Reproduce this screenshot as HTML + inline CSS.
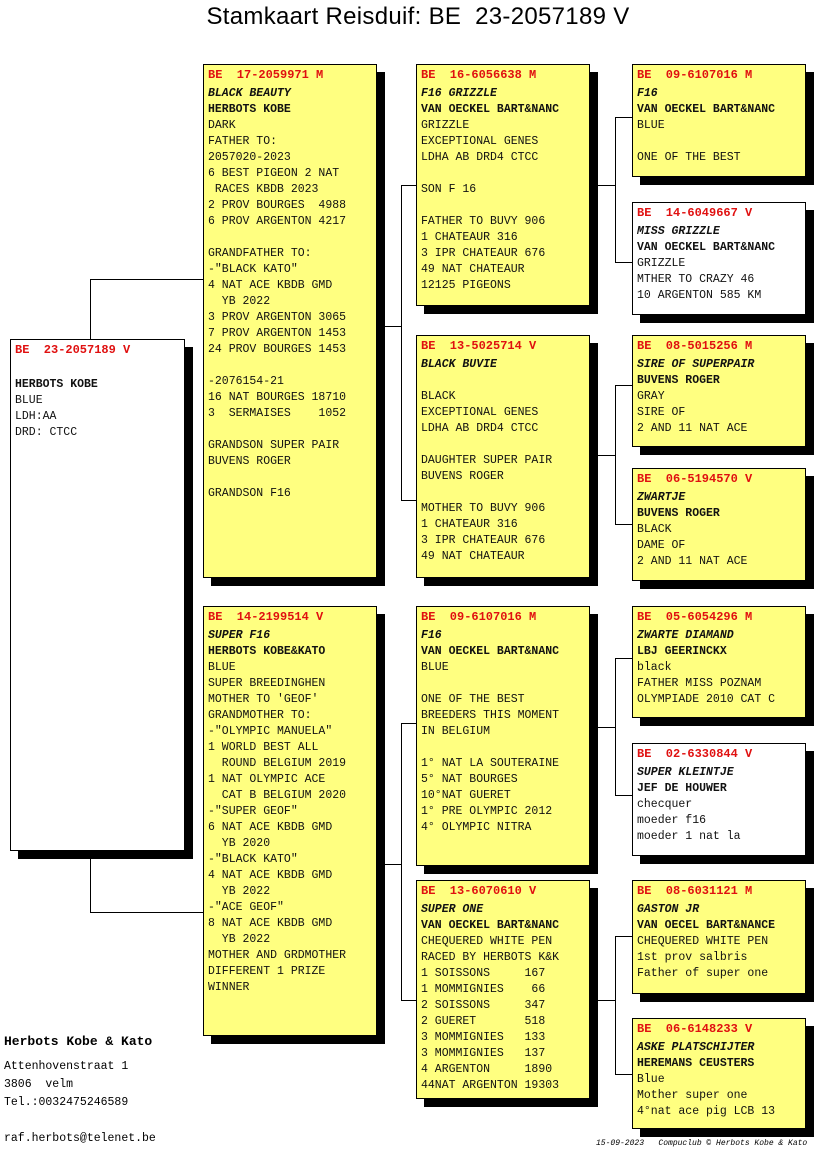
<!DOCTYPE html>
<html><head><meta charset="utf-8">
<style>
body{margin:0;width:816px;height:1172px;background:#fff;position:relative;overflow:hidden;font-family:"Liberation Mono",monospace;}
.t{position:absolute;left:0;width:836px;top:3px;text-align:center;font:24px "Liberation Sans",sans-serif;letter-spacing:0.3px;}
.b{position:absolute;background:#ffff80;border:1px solid #000;box-shadow:8px 8px 0 #000;box-sizing:border-box;padding:1px 0 0 4px;font-size:11.5px;line-height:16px;color:#111;white-space:pre;}
.w{background:#fff;}
.h{color:#e01010;font-weight:bold;font-size:12px;line-height:18px;margin-bottom:2px;}
.n{font-style:italic;font-weight:bold;}
.o{font-weight:bold;}
.l{position:absolute;background:#000;}
.f{position:absolute;left:4px;font-size:11.5px;line-height:19px;white-space:pre;}
</style></head><body>
<div class="t">Stamkaart Reisduif: BE&nbsp; 23-2057189 V</div>

<div class="l" style="left:90px;top:279px;width:1px;height:60px"></div>
<div class="l" style="left:90px;top:279px;width:113px;height:1px"></div>
<div class="l" style="left:90px;top:850px;width:1px;height:62px"></div>
<div class="l" style="left:90px;top:912px;width:113px;height:1px"></div>

<div class="l" style="left:376px;top:326px;width:26px;height:1px"></div>
<div class="l" style="left:401px;top:185px;width:1px;height:316px"></div>
<div class="l" style="left:401px;top:185px;width:15px;height:1px"></div>
<div class="l" style="left:401px;top:500px;width:15px;height:1px"></div>

<div class="l" style="left:376px;top:864px;width:26px;height:1px"></div>
<div class="l" style="left:401px;top:723px;width:1px;height:277px"></div>
<div class="l" style="left:401px;top:723px;width:15px;height:1px"></div>
<div class="l" style="left:401px;top:1000px;width:15px;height:1px"></div>

<div class="l" style="left:589px;top:185px;width:26px;height:1px"></div>
<div class="l" style="left:615px;top:117px;width:1px;height:146px"></div>
<div class="l" style="left:615px;top:117px;width:17px;height:1px"></div>
<div class="l" style="left:615px;top:262px;width:17px;height:1px"></div>

<div class="l" style="left:589px;top:455px;width:26px;height:1px"></div>
<div class="l" style="left:615px;top:385px;width:1px;height:140px"></div>
<div class="l" style="left:615px;top:385px;width:17px;height:1px"></div>
<div class="l" style="left:615px;top:524px;width:17px;height:1px"></div>

<div class="l" style="left:589px;top:727px;width:26px;height:1px"></div>
<div class="l" style="left:615px;top:658px;width:1px;height:138px"></div>
<div class="l" style="left:615px;top:658px;width:17px;height:1px"></div>
<div class="l" style="left:615px;top:795px;width:17px;height:1px"></div>

<div class="l" style="left:589px;top:1000px;width:26px;height:1px"></div>
<div class="l" style="left:615px;top:936px;width:1px;height:139px"></div>
<div class="l" style="left:615px;top:936px;width:17px;height:1px"></div>
<div class="l" style="left:615px;top:1074px;width:17px;height:1px"></div>

<div class="b w" style="left:10px;top:339px;width:175px;height:512px"><div class="h">BE  23-2057189 V</div>
<span class="o">HERBOTS KOBE</span>
BLUE
LDH:AA
DRD: CTCC</div>

<div class="b" style="left:203px;top:64px;width:174px;height:514px"><div class="h">BE  17-2059971 M</div><span class="n">BLACK BEAUTY</span>
<span class="o">HERBOTS KOBE</span>
DARK
FATHER TO:
2057020-2023
6 BEST PIGEON 2 NAT
 RACES KBDB 2023
2 PROV BOURGES  4988
6 PROV ARGENTON 4217

GRANDFATHER TO:
-"BLACK KATO"
4 NAT ACE KBDB GMD
  YB 2022
3 PROV ARGENTON 3065
7 PROV ARGENTON 1453
24 PROV BOURGES 1453

-2076154-21
16 NAT BOURGES 18710
3  SERMAISES    1052

GRANDSON SUPER PAIR
BUVENS ROGER

GRANDSON F16</div>

<div class="b" style="left:203px;top:606px;width:174px;height:430px"><div class="h">BE  14-2199514 V</div><span class="n">SUPER F16</span>
<span class="o">HERBOTS KOBE&amp;KATO</span>
BLUE
SUPER BREEDINGHEN
MOTHER TO 'GEOF'
GRANDMOTHER TO:
-"OLYMPIC MANUELA"
1 WORLD BEST ALL
  ROUND BELGIUM 2019
1 NAT OLYMPIC ACE
  CAT B BELGIUM 2020
-"SUPER GEOF"
6 NAT ACE KBDB GMD
  YB 2020
-"BLACK KATO"
4 NAT ACE KBDB GMD
  YB 2022
-"ACE GEOF"
8 NAT ACE KBDB GMD
  YB 2022
MOTHER AND GRDMOTHER
DIFFERENT 1 PRIZE
WINNER</div>

<div class="b" style="left:416px;top:64px;width:174px;height:242px"><div class="h">BE  16-6056638 M</div><span class="n">F16 GRIZZLE</span>
<span class="o">VAN OECKEL BART&amp;NANC</span>
GRIZZLE
EXCEPTIONAL GENES
LDHA AB DRD4 CTCC

SON F 16

FATHER TO BUVY 906
1 CHATEAUR 316
3 IPR CHATEAUR 676
49 NAT CHATEAUR
12125 PIGEONS</div>

<div class="b" style="left:416px;top:335px;width:174px;height:243px"><div class="h">BE  13-5025714 V</div><span class="n">BLACK BUVIE</span>

BLACK
EXCEPTIONAL GENES
LDHA AB DRD4 CTCC

DAUGHTER SUPER PAIR
BUVENS ROGER

MOTHER TO BUVY 906
1 CHATEAUR 316
3 IPR CHATEAUR 676
49 NAT CHATEAUR</div>

<div class="b" style="left:416px;top:606px;width:174px;height:260px"><div class="h">BE  09-6107016 M</div><span class="n">F16</span>
<span class="o">VAN OECKEL BART&amp;NANC</span>
BLUE

ONE OF THE BEST
BREEDERS THIS MOMENT
IN BELGIUM

1° NAT LA SOUTERAINE
5° NAT BOURGES
10°NAT GUERET
1° PRE OLYMPIC 2012
4° OLYMPIC NITRA</div>

<div class="b" style="left:416px;top:880px;width:174px;height:219px"><div class="h">BE  13-6070610 V</div><span class="n">SUPER ONE</span>
<span class="o">VAN OECKEL BART&amp;NANC</span>
CHEQUERED WHITE PEN
RACED BY HERBOTS K&amp;K
1 SOISSONS     167
1 MOMMIGNIES    66
2 SOISSONS     347
2 GUERET       518
3 MOMMIGNIES   133
3 MOMMIGNIES   137
4 ARGENTON     1890
44NAT ARGENTON 19303</div>

<div class="b" style="left:632px;top:64px;width:174px;height:113px"><div class="h">BE  09-6107016 M</div><span class="n">F16</span>
<span class="o">VAN OECKEL BART&amp;NANC</span>
BLUE

ONE OF THE BEST</div>

<div class="b w" style="left:632px;top:202px;width:174px;height:113px"><div class="h">BE  14-6049667 V</div><span class="n">MISS GRIZZLE</span>
<span class="o">VAN OECKEL BART&amp;NANC</span>
GRIZZLE
MTHER TO CRAZY 46
10 ARGENTON 585 KM</div>

<div class="b" style="left:632px;top:335px;width:174px;height:112px"><div class="h">BE  08-5015256 M</div><span class="n">SIRE OF SUPERPAIR</span>
<span class="o">BUVENS ROGER</span>
GRAY
SIRE OF
2 AND 11 NAT ACE</div>

<div class="b" style="left:632px;top:468px;width:174px;height:113px"><div class="h">BE  06-5194570 V</div><span class="n">ZWARTJE</span>
<span class="o">BUVENS ROGER</span>
BLACK
DAME OF
2 AND 11 NAT ACE</div>

<div class="b" style="left:632px;top:606px;width:174px;height:112px"><div class="h">BE  05-6054296 M</div><span class="n">ZWARTE DIAMAND</span>
<span class="o">LBJ GEERINCKX</span>
black
FATHER MISS POZNAM
OLYMPIADE 2010 CAT C</div>

<div class="b w" style="left:632px;top:743px;width:174px;height:113px"><div class="h">BE  02-6330844 V</div><span class="n">SUPER KLEINTJE</span>
<span class="o">JEF DE HOUWER</span>
checquer
moeder f16
moeder 1 nat la</div>

<div class="b" style="left:632px;top:880px;width:174px;height:114px"><div class="h">BE  08-6031121 M</div><span class="n">GASTON JR</span>
<span class="o">VAN OECEL BART&amp;NANCE</span>
CHEQUERED WHITE PEN
1st prov salbris
Father of super one</div>

<div class="b" style="left:632px;top:1018px;width:174px;height:111px"><div class="h">BE  06-6148233 V</div><span class="n">ASKE PLATSCHIJTER</span>
<span class="o">HEREMANS CEUSTERS</span>
Blue
Mother super one
4°nat ace pig LCB 13</div>

<div class="f" style="top:1032px;font-size:13px;font-weight:bold;">Herbots Kobe &amp; Kato</div>
<div class="f" style="top:1058px;line-height:18px;">Attenhovenstraat 1
3806  velm
Tel.:0032475246589

raf.herbots@telenet.be</div>
<div style="position:absolute;left:596px;top:1139px;font:italic 8px 'Liberation Mono',monospace;white-space:pre;">15-09-2023   Compuclub © Herbots Kobe &amp; Kato</div>
</body></html>
